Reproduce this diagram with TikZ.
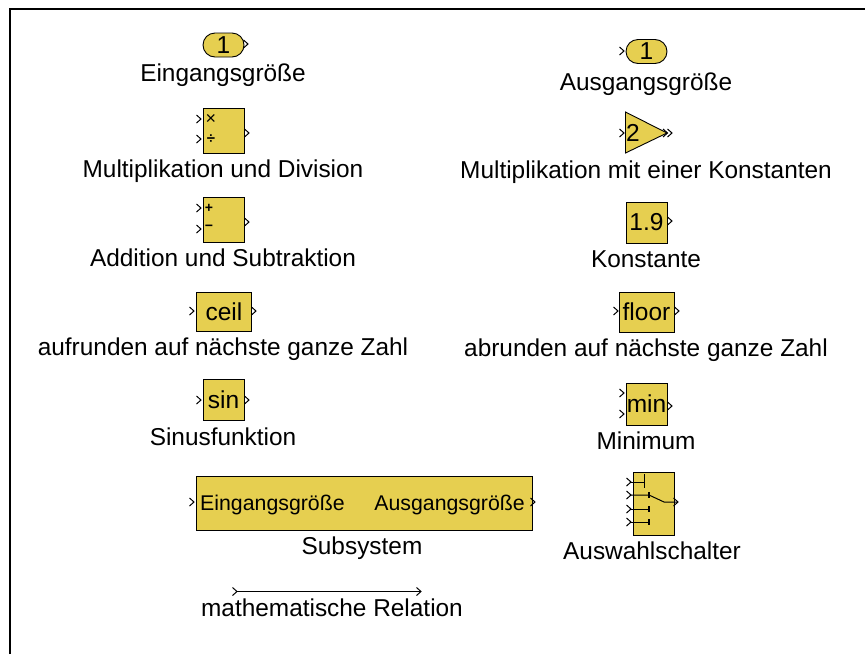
\documentclass[tikz,border=0pt]{standalone}
\usepackage{fontspec}
\setmainfont{Liberation Sans}
\usetikzlibrary{shapes.misc}
\definecolor{blockfill}{HTML}{E6CF50}
\tikzset{
 blockbox/.style={draw=black,fill=blockfill,line width=0.9pt,rectangle,inner sep=0pt,text=black,font=\fontsize{24.5}{24}\selectfont},
 pillbox/.style={draw=black,fill=blockfill,line width=0.9pt,rounded rectangle,inner sep=0pt,minimum width=41pt,minimum height=24pt,text=black,font=\fontsize{24.5}{24}\selectfont},
 lab/.style={inner sep=0pt,text=black,font=\fontsize{24.4}{25}\selectfont,anchor=center},
 sublab/.style={inner sep=0pt,text=black,font=\fontsize{21.3}{22}\selectfont},
 chev/.style={draw=black,line width=1pt},
 wire/.style={draw=black,line width=1pt},
 stub/.style={draw=black,line width=2.4pt},
 tinytext/.style={inner sep=0pt,text=black}
}
\newcommand{\chevron}[2]{\draw[chev] (#1-4.5,#2-4) -- (#1,#2) -- (#1-4.5,#2+4);}
\newcommand{\blk}[6]{\node[blockbox,minimum width=#4pt,minimum height=#5pt] (#1) at (#2,#3) {#6};}
\begin{document}
\begin{tikzpicture}[x=1pt,y=-1pt]
\useasboundingbox (0,0) rectangle (865,654);
\coordinate (fa) at (10,9);\coordinate (fb) at (865,9);\coordinate (fd) at (10,654);
\draw[line width=2pt] (fd) -- (fa) -- (fb);
% Left column
\node[pillbox] (in1) at (223.5,45) {1};
\chevron{248}{44}
\node[lab] (l1) at (223,75) {Eingangsgröße};
\blk{muldiv}{223.5}{130.5}{41}{45}{}
\chevron{201}{119}\chevron{201}{139}\chevron{249}{133}
\node[tinytext,font=\fontsize{18}{18}\selectfont] (mx) at (211,119) {×};
\node[tinytext,font=\bfseries\fontsize{15}{15}\selectfont] (md) at (211,139) {÷};
\node[lab] (l2) at (223,171) {Multiplikation und Division};
\blk{addsub}{223.5}{219.5}{41}{45}{}
\chevron{201}{208}\chevron{201}{229}\chevron{249}{222}
\node[tinytext,font=\bfseries\fontsize{14}{14}\selectfont] (ap) at (209,208) {+};
\node[tinytext,font=\bfseries\fontsize{14}{14}\selectfont] (am) at (209,228) {−};
\node[lab] (l3) at (223,258) {Addition und Subtraktion};
\blk{ceil}{224}{312}{55}{39}{ceil}
\chevron{194}{311}\chevron{256}{311}
\node[lab] (l4) at (223,349) {aufrunden auf nächste ganze Zahl};
\blk{sinb}{223.5}{400}{41}{41}{sin}
\chevron{201}{400}\chevron{249}{400}
\node[lab] (l5) at (223,437) {Sinusfunktion};
\blk{sub}{364}{503}{336}{54}{}
\node[sublab,anchor=west] (si) at (200,504.5) {Eingangsgröße};
\node[sublab,anchor=east] (so) at (525,504.5) {Ausgangsgröße};
\chevron{194}{502}\chevron{535}{502}
\node[lab] (l6) at (362,548) {Subsystem};
\coordinate (rs) at (236,591.5);\coordinate (re) at (421,591.5);
\draw[wire] (rs) -- (re);
\chevron{237}{591.5}\chevron{421}{591.5}
\node[lab] (l7) at (332,608) {mathematische Relation};
% Right column
\node[pillbox] (out1) at (646.5,51.5) {1};
\chevron{624}{51}
\node[lab] (r1) at (646,84) {Ausgangsgröße};
\coordinate (ga) at (625.5,112);\coordinate (gb) at (667,133);\coordinate (gc) at (625.5,153);
\draw[draw=black,fill=blockfill,line width=0.9pt,line join=miter] (ga) -- (gb) -- (gc) -- cycle;
\node[tinytext,font=\fontsize{24.5}{24}\selectfont] (gv) at (633,133) {2};
\chevron{624}{133}\chevron{667.5}{133}\chevron{672}{133}
\node[lab] (r2) at (646,172) {Multiplikation mit einer Konstanten};
\blk{const}{646.5}{222.5}{41}{41}{1.9}
\chevron{672}{221}
\node[lab] (r3) at (646,259) {Konstante};
\blk{floorb}{646.5}{312}{55}{40}{floor}
\chevron{618}{311}\chevron{679}{311}
\node[lab] (r4) at (646,350) {abrunden auf nächste ganze Zahl};
\blk{minb}{646.5}{404}{41}{42}{min}
\chevron{624}{393}\chevron{624}{414}\chevron{672}{406}
\node[lab] (r5) at (646,441) {Minimum};
\blk{swb}{653.5}{503.5}{41}{63}{}
\chevron{631}{482}\chevron{631}{495}\chevron{631}{509}\chevron{631}{522}\chevron{678}{502}
\coordinate (s1) at (631,482);\coordinate (s1e) at (644,482);
\coordinate (s2) at (631,495);\coordinate (s2e) at (649,495);
\coordinate (s3) at (631,509);\coordinate (s3e) at (649,509);
\coordinate (s4) at (631,522);\coordinate (s4e) at (649,522);
\coordinate (sk) at (664,502);\coordinate (so2) at (677,502);
\draw[wire] (s1) -- (s1e);
\draw[wire] (644,474) -- (644,488);
\draw[wire] (s2) -- (s2e) -- (sk) -- (so2);
\draw[wire] (s3) -- (s3e);
\draw[wire] (s4) -- (s4e);
\draw[stub] (649,492) -- (649,498);
\draw[stub] (649,506) -- (649,512);
\draw[stub] (649,519) -- (649,525);
\node[lab] (r6) at (652,551) {Auswahlschalter};
\end{tikzpicture}
\end{document}
